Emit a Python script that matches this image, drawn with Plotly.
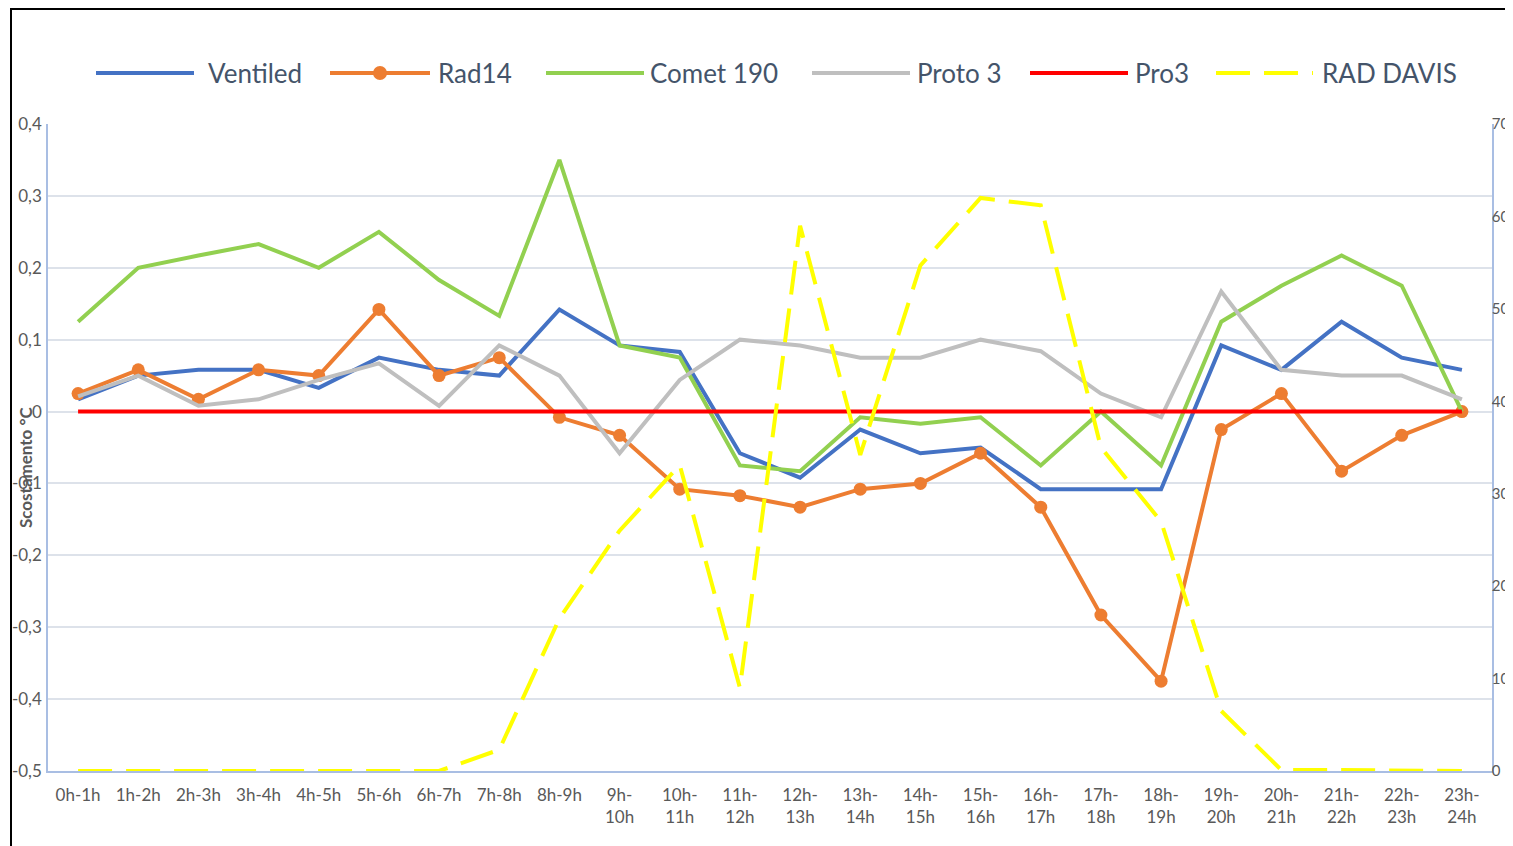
import plotly.graph_objects as go

# ---------------- data ----------------
categories = ["0h-1h", "1h-2h", "2h-3h", "3h-4h", "4h-5h", "5h-6h", "6h-7h", "7h-8h", "8h-9h",
              "9h-10h", "10h-11h", "11h-12h", "12h-13h", "13h-14h", "14h-15h", "15h-16h",
              "16h-17h", "17h-18h", "18h-19h", "19h-20h", "20h-21h", "21h-22h", "22h-23h", "23h-24h"]
tick_labels = ["0h-1h", "1h-2h", "2h-3h", "3h-4h", "4h-5h", "5h-6h", "6h-7h", "7h-8h", "8h-9h",
               "9h-<br>10h", "10h-<br>11h", "11h-<br>12h", "12h-<br>13h", "13h-<br>14h", "14h-<br>15h",
               "15h-<br>16h", "16h-<br>17h", "17h-<br>18h", "18h-<br>19h", "19h-<br>20h", "20h-<br>21h",
               "21h-<br>22h", "22h-<br>23h", "23h-<br>24h"]

ventiled = [0.017, 0.05, 0.058, 0.058, 0.033, 0.075, 0.058, 0.05, 0.142, 0.092, 0.083, -0.058,
            -0.092, -0.025, -0.058, -0.05, -0.108, -0.108, -0.108, 0.092, 0.058, 0.125, 0.075, 0.058]
rad14 = [0.025, 0.058, 0.017, 0.058, 0.05, 0.142, 0.05, 0.075, -0.008, -0.033, -0.108, -0.117,
         -0.133, -0.108, -0.1, -0.058, -0.133, -0.283, -0.375, -0.025, 0.025, -0.083, -0.033, 0.0]
comet190 = [0.125, 0.2, 0.217, 0.233, 0.2, 0.25, 0.183, 0.133, 0.35, 0.092, 0.075, -0.075,
            -0.083, -0.008, -0.017, -0.008, -0.075, 0.0, -0.075, 0.125, 0.175, 0.217, 0.175, 0.0]
proto3 = [0.021, 0.05, 0.008, 0.017, 0.044, 0.067, 0.008, 0.092, 0.05, -0.058, 0.044, 0.1,
          0.092, 0.075, 0.075, 0.1, 0.084, 0.025, -0.008, 0.167, 0.058, 0.05, 0.05, 0.017]
pro3 = [0.0] * 24
rad_davis = [0, 0, 0, 0, 0, 0, 0, 2.3, 16.5, 26.0, 33.1, 9.0, 59.0, 34.2, 54.7, 62.0, 61.2,
             35.0, 27.0, 6.5, 0.1, 0.1, 0, 0]

y_left_ticks = [0.4, 0.3, 0.2, 0.1, 0.0, -0.1, -0.2, -0.3, -0.4, -0.5]
y_left_ticktext = ["0,4", "0,3", "0,2", "0,1", "0", "-0,1", "-0,2", "-0,3", "-0,4", "-0,5"]
y_right_ticks = [0, 10, 20, 30, 40, 50, 60, 70]

series_names = ["Ventiled", "Rad14", "Comet 190", "Proto 3", "Pro3", "RAD DAVIS"]
series_colors = ["#4472C4", "#ED7D31", "#92D050", "#BFBFBF", "#FF0000", "#FFFF00"]

# ---------------- figure ----------------
# the page body has an 8px margin, so the figure is offset by (8, 8) on screen;
# positions below are screen pixels and are converted to figure/paper coordinates.
OFF = 8
W, H = 1513, 846
PL, PR, PT, PB = 48, 1492, 124, 771          # plot area on screen
ML, MT = PL - OFF, PT - OFF
MR = W - (PR - OFF)
MB = H - (PB - OFF)
PW, PH = PR - PL, PB - PT

def px_x(px):
    return (px - PL) / PW

def px_y(py):
    return (PB - py) / PH

fig = go.Figure()
left_series = [ventiled, rad14, comet190, proto3, pro3]
for i, vals in enumerate(left_series):
    kw = dict(mode="lines")
    if series_names[i] == "Rad14":
        kw = dict(mode="lines+markers", marker=dict(size=13, color=series_colors[i]))
    fig.add_trace(go.Scatter(x=categories, y=vals, name=series_names[i],
                             line=dict(color=series_colors[i], width=4), showlegend=False,
                             yaxis="y", **kw))
fig.add_trace(go.Scatter(x=categories, y=rad_davis, name=series_names[5], mode="lines",
                         line=dict(color=series_colors[5], width=4, dash="34px,14px"),
                         showlegend=False, yaxis="y2"))

axis_line_col = "#A9BEE3"
tick_font = dict(family="Lato", size=17, color="#595959")
right_tick_font = dict(family="Lato", size=15, color="#595959")

fig.update_layout(
    width=W, height=H,
    margin=dict(l=ML, r=MR, t=MT, b=MB, pad=0, autoexpand=False),
    paper_bgcolor="white", plot_bgcolor="white",
    xaxis=dict(type="category", categoryorder="array", categoryarray=categories,
               tickvals=categories, ticktext=tick_labels, range=[-0.5, 23.5],
               showgrid=False, showline=True, linecolor=axis_line_col, linewidth=1.5,
               ticks="", tickfont=tick_font, ticklabelstandoff=8, zeroline=False,
               automargin=False),
    yaxis=dict(range=[-0.5, 0.4], tickvals=y_left_ticks, ticktext=y_left_ticktext,
               showgrid=True, gridcolor="#DDE2EA", gridwidth=1.5, zeroline=False,
               showline=True, linecolor=axis_line_col, linewidth=1.5, ticks="",
               tickfont=tick_font, ticklabelstandoff=1, automargin=False),
    yaxis2=dict(range=[0, 70], tickvals=y_right_ticks, overlaying="y", side="right",
                showgrid=False, zeroline=False, showline=True, linecolor=axis_line_col,
                linewidth=1.5, ticks="", tickfont=right_tick_font, ticklabelstandoff=-5,
                automargin=False),
    showlegend=False,
)

# chart frame (top and left borders), kept inside the figure
fig_bottom = px_y(OFF + H - 1)
fig_right = px_x(OFF + W - 2)
shapes = [
    dict(type="line", xref="paper", yref="paper", x0=px_x(11), x1=px_x(11),
         y0=fig_bottom, y1=px_y(8), line=dict(color="black", width=2)),
    dict(type="line", xref="paper", yref="paper", x0=px_x(11), x1=fig_right,
         y0=px_y(9), y1=px_y(9), line=dict(color="black", width=2)),
]

# legend built from series names / colours
legend_pos = [(96, 194, 206), (330, 430, 436), (546, 644, 648),
              (812, 910, 915), (1030, 1128, 1133), (1216, 1313, 1320)]
legend_y = 73
annotations = []
for i, name in enumerate(series_names):
    x0, x1, xt = legend_pos[i]
    dash = "34px,14px" if name == "RAD DAVIS" else "solid"
    shapes.append(dict(type="line", xref="paper", yref="paper",
                       x0=px_x(x0), x1=px_x(x1), y0=px_y(legend_y), y1=px_y(legend_y),
                       line=dict(color=series_colors[i], width=4, dash=dash)))
    if name == "Rad14":
        cx = (x0 + x1) / 2
        shapes.append(dict(type="circle", xref="paper", yref="paper",
                           x0=px_x(cx - 7), x1=px_x(cx + 7),
                           y0=px_y(legend_y + 7), y1=px_y(legend_y - 7),
                           fillcolor=series_colors[i], line=dict(color=series_colors[i], width=0)))
    annotations.append(dict(text=name, xref="paper", yref="paper", x=px_x(xt), y=px_y(legend_y),
                            xanchor="left", yanchor="middle", showarrow=False,
                            font=dict(family="Lato", size=26, color="#44546A")))

annotations.append(dict(text="<b>Scostamento °C</b>", xref="paper", yref="paper",
                        x=px_x(25), y=px_y(467), textangle=-90, showarrow=False,
                        xanchor="center", yanchor="middle",
                        font=dict(family="Lato", size=17, color="#595959")))

fig.update_layout(shapes=shapes, annotations=annotations)

fig.write_html("out.html")
